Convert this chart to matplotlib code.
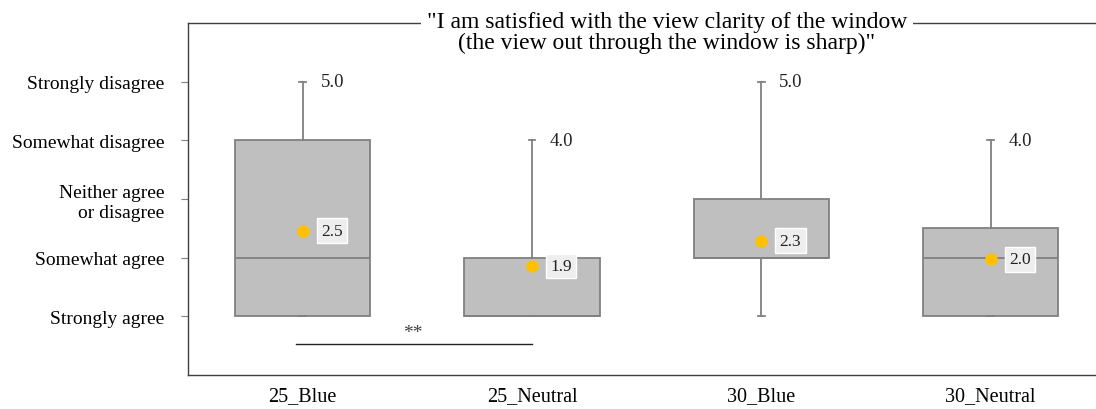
import matplotlib.pyplot as plt

groups = ["25_Blue", "25_Neutral", "30_Blue", "30_Neutral"]
whisker_low = [1, 1, 1, 1]
q1 = [1, 1, 2, 1]
medians = [2, 1, 2, 2]
q3 = [4, 2, 3, 2.5]
whisker_high = [5, 4, 5, 4]
means = [2.46, 1.86, 2.29, 1.97]

levels = [1, 2, 3, 4, 5]
level_labels = ["Strongly agree", "Somewhat agree", "Neither agree\nor disagree",
                "Somewhat disagree", "Strongly disagree"]

title = ('"I am satisfied with the view clarity of the window\n'
         '(the view out through the window is sharp)"')

plt.rcParams["font.family"] = ["Liberation Serif", "DejaVu Serif"]

fig = plt.figure(figsize=(10.96, 4.10), dpi=100)
ax = fig.add_axes([188 / 1096, 1 - 376 / 410, 1 - 188 / 1096, (376 - 24) / 410])

stats = []
for i in range(len(groups)):
    stats.append({"whislo": whisker_low[i], "q1": q1[i], "med": medians[i],
                  "q3": q3[i], "whishi": whisker_high[i], "fliers": []})

gray = "#808080"
ax.bxp(stats, positions=range(len(groups)), widths=0.59, patch_artist=True,
       showfliers=False,
       boxprops=dict(facecolor="#bfbfbf", edgecolor=gray, linewidth=1.3),
       medianprops=dict(color=gray, linewidth=1.3),
       whiskerprops=dict(color=gray, linewidth=1.3),
       capprops=dict(color=gray, linewidth=1.3), capwidths=0.03)

ax.plot(range(len(groups)), means, "o", color="#ffc000", markersize=8, zorder=5)

for i, m in enumerate(means):
    ax.annotate(f"{m:.1f}", (i, m), xytext=(21, 0), textcoords="offset points",
                ha="center", va="center", fontsize=12.5, color="#222222",
                bbox=dict(boxstyle="square,pad=0.25", facecolor="#eeeeee",
                          edgecolor="white", linewidth=1))
    ax.annotate(f"{whisker_high[i]:.1f}", (i, whisker_high[i]), xytext=(13, 0),
                textcoords="offset points", ha="left", va="center",
                fontsize=13.5, color="#222222")

# significance marker between 25_Blue and 25_Neutral
ax.plot([-0.03, 1.0], [0.52, 0.52], color="#222222", linewidth=1)
ax.text(0.48, 0.72, "**", ha="center", va="center", fontsize=14, color="#404040")

ax.set_xlim(-0.5, 3.46)
ax.set_ylim(0, 6)
ax.set_xticks(range(len(groups)))
ax.set_xticklabels(groups, fontsize=14.5)
ax.set_yticks(levels)
ax.set_yticklabels(level_labels, fontsize=14)
ax.tick_params(axis="x", length=0, pad=8)
ax.tick_params(axis="y", length=5, color=gray, pad=12)

for s in ["left", "top", "bottom"]:
    ax.spines[s].set_color("#404040")
    ax.spines[s].set_linewidth(1)
ax.spines["right"].set_visible(False)

fig.text(667 / 1096, 1 - 33 / 410, title, ha="center", va="center",
         fontsize=17, linespacing=1.05,
         bbox=dict(facecolor="white", edgecolor="none", pad=4))

fig.savefig("out.png", dpi=100)
